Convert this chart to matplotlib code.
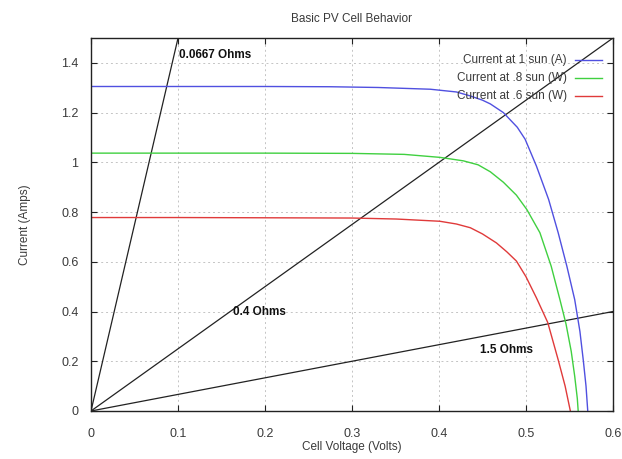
import matplotlib
matplotlib.use("Agg")
import matplotlib.pyplot as plt
import numpy as np

plt.rcParams['font.family'] = ['Liberation Sans', 'DejaVu Sans']

# Data
v_1sun = [0.0, 0.1, 0.2, 0.275, 0.33, 0.39, 0.42, 0.436, 0.45, 0.459, 0.474, 0.490, 0.499,
          0.512, 0.526, 0.537, 0.547, 0.556, 0.562, 0.566, 0.569, 0.571]
i_1sun = [1.305, 1.305, 1.305, 1.304, 1.301, 1.294, 1.283, 1.267, 1.25, 1.235, 1.20, 1.141, 1.093,
          0.985, 0.851, 0.717, 0.582, 0.448, 0.32, 0.20, 0.10, 0.0]

v_08sun = [0.0, 0.1, 0.2, 0.3, 0.36, 0.401, 0.428, 0.445, 0.459, 0.474, 0.489, 0.501, 0.516,
           0.529, 0.539, 0.546, 0.552, 0.556, 0.559, 0.560]
i_08sun = [1.037, 1.037, 1.037, 1.036, 1.032, 1.02, 1.006, 0.99, 0.962, 0.92, 0.868, 0.81, 0.717,
           0.582, 0.448, 0.35, 0.24, 0.14, 0.05, 0.0]

v_06sun = [0.0, 0.1, 0.2, 0.3, 0.351, 0.401, 0.42, 0.436, 0.45, 0.466, 0.478, 0.489, 0.50,
           0.512, 0.525, 0.537, 0.545, 0.551]
i_06sun = [0.778, 0.778, 0.777, 0.776, 0.772, 0.763, 0.752, 0.737, 0.712, 0.676, 0.64, 0.603, 0.54,
           0.455, 0.356, 0.206, 0.10, 0.0]

load_ohms = [0.0667, 0.4, 1.5]
load_labels = ['0.0667 Ohms', '0.4 Ohms', '1.5 Ohms']
load_label_pos = [(0.101, 1.43), (0.163, 0.40), (0.447, 0.245)]

series_labels = ['Current at 1 sun (A)', 'Current at .8 sun (W)', 'Current at .6 sun (W)']
colors = ['#5050e0', '#40d040', '#e03a3a']
xticks = [0, 0.1, 0.2, 0.3, 0.4, 0.5, 0.6]
xticklabels = ['0', '0.1', '0.2', '0.3', '0.4', '0.5', '0.6']
yticks = [0, 0.2, 0.4, 0.6, 0.8, 1.0, 1.2, 1.4]
yticklabels = ['0', '0.2', '0.4', '0.6', '0.8', '1', '1.2', '1.4']

fig = plt.figure(figsize=(6.22, 4.59), dpi=100)
ax = fig.add_axes([0.1463, 0.1046, 0.8392, 0.8126])

txtc = '#3a3a3a'
fs = 8.5

ax.set_xlim(0, 0.6)
ax.set_ylim(0, 1.5)
ax.set_xticks(xticks)
ax.set_xticklabels(xticklabels)
ax.set_yticks(yticks)
ax.set_yticklabels(yticklabels)
ax.tick_params(direction='in', length=4, width=0.8, top=True, right=True,
               labelsize=9, colors='#222222', labelcolor=txtc)
ax.tick_params(axis='x', pad=12)
ax.tick_params(axis='y', pad=9)
ax.grid(True, color='#c4c4c4', linestyle=(0, (2, 3)), linewidth=0.7)
for s in ax.spines.values():
    s.set_color('#222222')
    s.set_linewidth(1.0)

# load lines
vline = np.array([0.0, 0.6])
for r in load_ohms:
    ax.plot(vline, vline / r, color='#222222', linewidth=0.9)
for lab, (x, y) in zip(load_labels, load_label_pos):
    ax.text(x, y, lab, fontsize=8.5, fontweight='bold', color='#111111', va='center', ha='left')

for v, i, c in zip([v_1sun, v_08sun, v_06sun], [i_1sun, i_08sun, i_06sun], colors):
    ax.plot(v, i, color=c, linewidth=1.0)

# legend (gnuplot style: right-aligned text, sample to the right)
leg_y = [0.941, 0.893, 0.845]
for lab, c, y in zip(series_labels, colors, leg_y):
    ax.text(0.912, y, lab, transform=ax.transAxes, ha='right', va='center',
            fontsize=fs, color=txtc)
    ax.plot([0.927, 0.979], [y, y], transform=ax.transAxes, color=c, linewidth=1.0)

ax.set_xlabel('Cell Voltage (Volts)', fontsize=fs, color=txtc, labelpad=1)
ax.set_ylabel('Current (Amps)', fontsize=fs, color=txtc, labelpad=22)
fig.text(0.565, 0.958, 'Basic PV Cell Behavior', ha='center', va='center', fontsize=fs, color=txtc)

fig.savefig('out.png', dpi=100)
